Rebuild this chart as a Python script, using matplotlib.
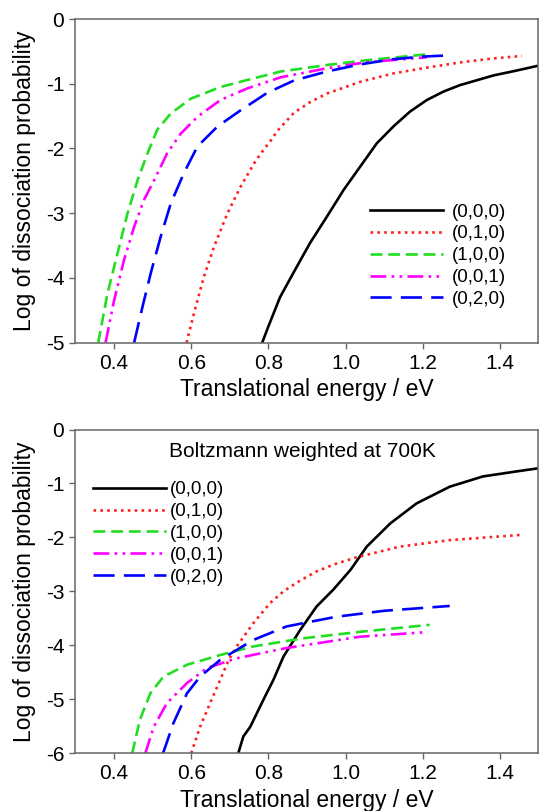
import matplotlib
matplotlib.use("Agg")
import matplotlib.pyplot as plt

plt.rcParams['font.family'] = ['Liberation Sans', 'DejaVu Sans']

labels = ["(0,0,0)", "(0,1,0)", "(1,0,0)", "(0,0,1)", "(0,2,0)"]
colors = ["black", "#ff2020", "#22dd22", "#ff00ff", "#0000ff"]
styles = ["-", (0, (1, 1.6)), (0, (4.5, 2.2)), (0, (6, 2, 1, 2, 1, 2)), (0, (8, 3.5))]

# Top panel: state-resolved
top_x = [
    [0.784, 0.80, 0.83, 0.865, 0.908, 0.952, 0.995, 1.038, 1.081, 1.124, 1.167, 1.211, 1.254, 1.297, 1.384, 1.44, 1.50],
    [0.588, 0.607, 0.633, 0.659, 0.694, 0.728, 0.763, 0.78, 0.806, 0.823, 0.866, 0.909, 0.952, 1.038, 1.124, 1.211, 1.297, 1.38, 1.457],
    [0.359, 0.383, 0.409, 0.435, 0.461, 0.487, 0.512, 0.547, 0.599, 0.676, 0.746, 0.832, 0.952, 1.05, 1.15, 1.22],
    [0.378, 0.40, 0.426, 0.452, 0.478, 0.504, 0.538, 0.573, 0.616, 0.676, 0.746, 0.832, 0.952, 1.05, 1.15, 1.211],
    [0.452, 0.474, 0.495, 0.521, 0.547, 0.581, 0.616, 0.668, 0.728, 0.797, 0.866, 0.952, 1.038, 1.124, 1.20, 1.27],
]
top_y = [
    [-5.0, -4.75, -4.30, -3.92, -3.46, -3.05, -2.64, -2.28, -1.92, -1.66, -1.43, -1.25, -1.12, -1.02, -0.87, -0.80, -0.72],
    [-5.0, -4.55, -3.98, -3.52, -3.0, -2.59, -2.23, -2.08, -1.88, -1.73, -1.45, -1.28, -1.15, -0.97, -0.84, -0.75, -0.67, -0.61, -0.57],
    [-5.0, -4.24, -3.62, -3.0, -2.49, -2.07, -1.71, -1.46, -1.23, -1.05, -0.94, -0.81, -0.71, -0.64, -0.58, -0.54],
    [-5.0, -4.35, -3.72, -3.21, -2.79, -2.49, -2.07, -1.77, -1.51, -1.25, -1.07, -0.90, -0.76, -0.67, -0.62, -0.59],
    [-5.0, -4.44, -3.93, -3.36, -2.85, -2.38, -1.97, -1.66, -1.41, -1.14, -0.95, -0.81, -0.70, -0.62, -0.58, -0.56],
]

# Bottom panel: Boltzmann weighted at 700K
bot_x = [
    [0.722, 0.735, 0.753, 0.787, 0.813, 0.839, 0.882, 0.925, 0.968, 1.013, 1.055, 1.116, 1.184, 1.27, 1.356, 1.44, 1.498],
    [0.60, 0.623, 0.649, 0.675, 0.697, 0.718, 0.761, 0.804, 0.839, 0.882, 0.925, 0.97, 1.028, 1.141, 1.27, 1.451],
    [0.447, 0.467, 0.494, 0.528, 0.589, 0.675, 0.761, 0.89, 1.037, 1.218],
    [0.481, 0.503, 0.537, 0.589, 0.641, 0.718, 0.847, 1.037, 1.201],
    [0.527, 0.554, 0.589, 0.623, 0.675, 0.761, 0.847, 0.976, 1.10, 1.27],
]
bot_y = [
    [-6.0, -5.69, -5.51, -5.01, -4.64, -4.21, -3.72, -3.28, -2.97, -2.60, -2.17, -1.74, -1.37, -1.06, -0.87, -0.78, -0.72],
    [-6.0, -5.51, -5.07, -4.64, -4.27, -4.02, -3.59, -3.22, -3.0, -2.80, -2.63, -2.50, -2.37, -2.17, -2.05, -1.955],
    [-6.0, -5.38, -4.89, -4.58, -4.36, -4.18, -4.02, -3.87, -3.75, -3.62],
    [-6.0, -5.51, -5.07, -4.70, -4.42, -4.24, -4.05, -3.84, -3.76],
    [-6.0, -5.44, -4.89, -4.58, -4.27, -3.90, -3.65, -3.47, -3.36, -3.27],
]

xticks = [0.4, 0.6, 0.8, 1.0, 1.2, 1.4]
xticklabels = ["0.4", "0.6", "0.8", "1.0", "1.2", "1.4"]

fig = plt.figure(figsize=(5.39, 8.11), dpi=100)
ax1 = fig.add_axes([0.140, 0.5775, 0.859, 0.399])
ax2 = fig.add_axes([0.140, 0.0712, 0.859, 0.3992])

def style(ax, ylim, yticks):
    ax.set_xlim(0.3, 1.5)
    ax.set_ylim(*ylim)
    ax.set_xticks(xticks)
    ax.set_xticklabels(xticklabels)
    ax.set_yticks(yticks)
    ax.set_yticklabels([str(t) for t in yticks])
    ax.tick_params(direction="out", length=4, width=1, color="#666666",
                   labelsize=15, top=False, right=False, pad=4)
    for s in ax.spines.values():
        s.set_color("#666666")
        s.set_linewidth(1.1)
    ax.set_xlabel("Translational energy / eV", fontsize=16.5, labelpad=4)
    ax.set_ylabel("Log of dissociation probability", fontsize=16.5, labelpad=7)

for xs, ys, c, ls, lab in zip(top_x, top_y, colors, styles, labels):
    ax1.plot(xs, ys, color=c, linestyle=ls, linewidth=1.9, label=lab)
style(ax1, (-5, 0), [0, -1, -2, -3, -4, -5])
ax1.legend(loc="upper left", bbox_to_anchor=(0.636, 0.43), frameon=False,
           fontsize=13.5, handlelength=3.9, handletextpad=0.45, labelspacing=0.25,
           borderaxespad=0, borderpad=0)

for xs, ys, c, ls, lab in zip(bot_x, bot_y, colors, styles, labels):
    ax2.plot(xs, ys, color=c, linestyle=ls, linewidth=1.9, label=lab)
style(ax2, (-6, 0), [0, -1, -2, -3, -4, -5, -6])
ax2.legend(loc="upper left", bbox_to_anchor=(0.037, 0.84), frameon=False,
           fontsize=13.5, handlelength=3.9, handletextpad=0.2, labelspacing=0.25,
           borderaxespad=0, borderpad=0)
ax2.text(0.889, -0.41, "Boltzmann weighted at 700K", fontsize=15,
         ha="center", va="center")

fig.savefig("out.png", dpi=100)
